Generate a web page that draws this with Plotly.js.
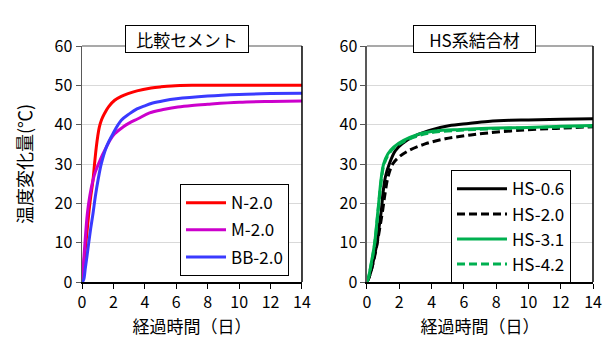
<!DOCTYPE html>
<html>
<head>
<meta charset="utf-8">
<script src="https://cdn.plot.ly/plotly-3.0.1.min.js"></script>
<style>html,body{margin:0;padding:0;background:#fff;}#chart{width:612px;height:338px;}</style>
</head>
<body>
<div id="chart"></div>
<script>
// ---- data (days, temperature rise °C) ----
const titleLeft = "比較セメント";
const titleRight = "HS系結合材";
const xTitle = "経過時間（日）";
const yTitle = "温度変化量(℃)";
const xTicks = [0, 2, 4, 6, 8, 10, 12, 14];
const yTicks = [0, 10, 20, 30, 40, 50, 60];

const n20_x = [0, 0.1, 0.2, 0.3, 0.43, 0.55, 0.7, 0.8, 0.91, 1.0, 1.1, 1.25, 1.44, 1.7, 2.08, 2.5, 2.93, 3.5, 4.4, 5.0, 5.7, 7, 9, 11, 14];
const n20_y = [0, 4, 8, 12, 17.4, 21.5, 25.9, 30.1, 34.3, 37, 39.3, 41.3, 42.9, 44.6, 46.2, 47.2, 47.9, 48.6, 49.3, 49.6, 49.85, 50, 50, 50, 50];

const m20_x = [0, 0.08, 0.17, 0.34, 0.5, 0.7, 0.85, 1.06, 1.3, 1.55, 1.8, 2.08, 2.61, 3.0, 3.56, 4.3, 5.26, 6.1, 7, 8, 10, 12, 14];
const m20_y = [0, 4, 9, 17.4, 22, 25.9, 28, 30.1, 32.3, 34.3, 36.2, 37.7, 39.4, 40.4, 41.5, 43.0, 43.9, 44.5, 44.9, 45.2, 45.7, 45.9, 46];

const bb20_x = [0, 0.1, 0.21, 0.3, 0.43, 0.55, 0.7, 0.85, 1.02, 1.23, 1.55, 1.97, 2.5, 3.03, 3.5, 3.99, 4.5, 5.2, 6, 8, 10, 12, 14];
const bb20_y = [0, 0.5, 3.5, 6, 10, 13.5, 17.4, 21.8, 25.9, 30.1, 34.3, 37.7, 41.1, 42.8, 44, 44.8, 45.5, 46.1, 46.6, 47.3, 47.7, 47.9, 48];

const hs06_x = [0, 0.14, 0.3, 0.45, 0.62, 0.75, 0.89, 0.99, 1.14, 1.38, 1.76, 2.17, 2.79, 3.82, 5.06, 6.3, 7.5, 8.86, 10, 12, 14];
const hs06_y = [0, 1.3, 3.5, 6.5, 9.8, 14, 18.2, 22.5, 26.7, 30, 33.4, 35.1, 36.8, 38.5, 39.7, 40.3, 40.8, 41.1, 41.2, 41.4, 41.5];

const hs20_x = [0, 0.14, 0.3, 0.5, 0.7, 0.97, 1.1, 1.3, 1.59, 1.96, 2.58, 3.6, 4.85, 6.1, 7.5, 9.9, 12, 14];
const hs20_y = [0, 1.3, 3.5, 7, 11.5, 18.2, 22, 26.7, 30, 31.7, 33.4, 35.1, 36.4, 37.2, 37.9, 38.7, 39.1, 39.5];

const hs31_x = [0, 0.1, 0.25, 0.47, 0.68, 0.89, 1.03, 1.3, 1.65, 2.27, 3.2, 4.2, 5.8, 7.5, 9.9, 12, 14];
const hs31_y = [0, 1.3, 4.5, 9.8, 18.2, 26.7, 30, 32.6, 34.3, 36, 37.6, 38.4, 38.8, 39.1, 39.3, 39.6, 39.8];

const hs42_x = [0, 0.1, 0.25, 0.47, 0.68, 0.89, 1.03, 1.3, 1.65, 2.27, 3.2, 4.2, 5.8, 7.5, 9.9, 12, 14];
const hs42_y = [0, 1.2, 4.2, 9.5, 17.8, 26, 29.5, 32.2, 34, 35.7, 37.2, 38.1, 38.6, 38.9, 39.2, 39.4, 39.6];

// ---- traces ----
const FONT = "Noto Sans CJK JP, Noto Sans, sans-serif";
function tr(name, x, y, color, dash, xa, ya, lg) {
  return {
    type: "scatter", mode: "lines", name: name, x: x, y: y,
    xaxis: xa, yaxis: ya, legend: lg, legendgroup: name,
    line: {color: color, width: 3, dash: dash, shape: "spline", smoothing: 1}
  };
}
const data = [
  tr("N-2.0", n20_x, n20_y, "#ff0000", "solid", "x", "y", "legend"),
  tr("M-2.0", m20_x, m20_y, "#cc00cc", "solid", "x", "y", "legend"),
  tr("BB-2.0", bb20_x, bb20_y, "#3a3aff", "solid", "x", "y", "legend"),
  tr("HS-0.6", hs06_x, hs06_y, "#000000", "solid", "x2", "y2", "legend2"),
  tr("HS-2.0", hs20_x, hs20_y, "#000000", "8px,4px", "x2", "y2", "legend2"),
  tr("HS-3.1", hs31_x, hs31_y, "#00b050", "solid", "x2", "y2", "legend2"),
  tr("HS-4.2", hs42_x, hs42_y, "#00b050", "8px,4px", "x2", "y2", "legend2")
];

function xax(domain, anchor) {
  return {
    domain: domain, anchor: anchor, range: [0, 14], tickvals: xTicks,
    ticks: "outside", ticklen: 5, tickcolor: "#000", tickwidth: 1,
    showline: true, linecolor: "#000", linewidth: 1.5,
    showgrid: false, zeroline: false,
    tickfont: {family: FONT, size: 16, color: "#000"},
    title: {text: xTitle, font: {family: FONT, size: 17, color: "#000"}, standoff: 4}
  };
}
function yax(anchor, withTitle) {
  const a = {
    domain: [0, 1], anchor: anchor, range: [0, 60], tickvals: yTicks,
    ticks: "outside", ticklen: 5, tickcolor: "#595959", tickwidth: 1,
    ticksuffix: "\u00a0",
    showline: true, linecolor: "#595959", linewidth: 1.5,
    showgrid: true, gridcolor: "#d9d9d9", gridwidth: 1, zeroline: false,
    tickfont: {family: FONT, size: 16, color: "#000"}
  };
  if (withTitle) a.title = {text: yTitle, font: {family: FONT, size: 18, color: "#000"}, standoff: 17};
  return a;
}

function frame(xr, yr) {
  return [
    {type: "line", xref: xr + " domain", yref: yr + " domain", x0: 0, x1: 1, y0: 1, y1: 1, line: {color: "#8c8c8c", width: 1.5}},
    {type: "line", xref: xr + " domain", yref: yr + " domain", x0: 1, x1: 1, y0: 0, y1: 1, line: {color: "#000", width: 1.5}}
  ];
}

const layout = {
  width: 612, height: 338,
  margin: {l: 82, r: 19, t: 45.5, b: 56},
  paper_bgcolor: "#fff", plot_bgcolor: "#fff",
  font: {family: FONT, color: "#000"},
  showlegend: true,
  xaxis: xax([0, 0.4305], "y"),
  yaxis: yax("x", true),
  xaxis2: xax([0.5577, 1], "y2"),
  yaxis2: yax("x2", false),
  legend: {
    x: 0.1918, y: 0.4144, xanchor: "left", yanchor: "top",
    bordercolor: "#000", borderwidth: 1, bgcolor: "#fff",
    font: {family: FONT, size: 17, color: "#000"}, tracegroupgap: 2,
    itemwidth: 40
  },
  legend2: {
    x: 0.7221, y: 0.4736, xanchor: "left", yanchor: "top",
    bordercolor: "#000", borderwidth: 1, bgcolor: "#fff",
    font: {family: FONT, size: 17, color: "#000"}, tracegroupgap: 0,
    itemwidth: 50
  },
  shapes: frame("x", "y").concat(frame("x2", "y2")),
  annotations: [
    {text: titleLeft, xref: "x domain", yref: "paper", x: 0.477, y: 1.087, showarrow: false,
     font: {family: FONT, size: 17, color: "#000"}, bordercolor: "#000", borderwidth: 1,
     width: 120, height: 24, bgcolor: "#fff"},
    {text: titleRight, xref: "x2 domain", yref: "paper", x: 0.474, y: 1.087, showarrow: false,
     font: {family: FONT, size: 17, color: "#000"}, bordercolor: "#000", borderwidth: 1,
     width: 119, height: 24, bgcolor: "#fff"}
  ]
};

Plotly.newPlot("chart", data, layout, {staticPlot: true, displayModeBar: false});
</script>
</body>
</html>
